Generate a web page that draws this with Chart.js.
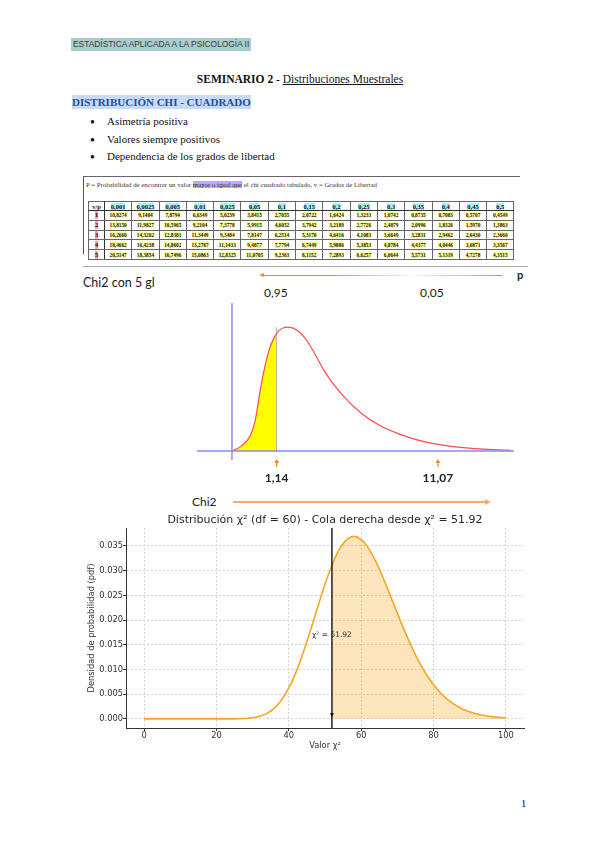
<!DOCTYPE html>
<html>
<head>
<meta charset="utf-8">
<script src="https://cdn.jsdelivr.net/npm/chart.js@4.4.0/dist/chart.umd.min.js"></script>
<style>
  body { margin: 0; background: #fff; }
  #page { position: relative; width: 600px; height: 848px; overflow: hidden; font-family: "Liberation Serif", serif; color: #111; }
  .abs { position: absolute; white-space: nowrap; }
  .cal { font-family: Lato, "Liberation Sans", sans-serif; color: #222; }
  #tbl { position: absolute; left: 88px; top: 201px; border-collapse: collapse; table-layout: fixed; border: 1.5px solid #333; font-family: "Liberation Serif", serif; font-weight: bold; }
  #tbl td { border: 0.8px solid #666; padding: 0; text-align: center; overflow: hidden; }
  #tbl tr.hd td { height: 8px; font-size: 6.5px; line-height: 7px; border-bottom: 1.6px solid #333; }
  #tbl tr.rw td { height: 8.8px; font-size: 5.3px; line-height: 6px; }
  #tbl td.c0 { border-right: 1.6px solid #333; }
  .hc { background: #a8f0f7; }
  .hr { background: #f4a3a8; font-size: 7px; }
  .hy { background: #ffff9c; }
</style>
</head>
<body>
<div id="page">
  <div class="abs" style="left:71px;top:38px;height:13px;line-height:13px;padding:0 2px;background:#a9cccc;font-family:'Liberation Sans Narrow','Liberation Sans',sans-serif;font-size:8.4px;color:#3a3a3a;">ESTADÍSTICA APLICADA A LA PSICOLOGÍA II</div>

  <div class="abs" style="left:0;top:72px;width:600px;text-align:center;font-size:11.5px;line-height:14px;"><b>SEMINARIO 2</b> - <u>Distribuciones Muestrales</u></div>

  <div class="abs" style="left:72px;top:95px;line-height:14px;font-size:11px;font-weight:bold;color:#1f4f99;background:#c9daf8;">DISTRIBUCIÓN CHI - CUADRADO</div>

  <div class="abs" style="left:90px;top:115px;font-size:8px;line-height:14px;">●</div>
  <div class="abs" style="left:107px;top:114px;font-size:11px;line-height:14px;">Asimetría positiva</div>
  <div class="abs" style="left:90px;top:133px;font-size:8px;line-height:14px;">●</div>
  <div class="abs" style="left:107px;top:132px;font-size:11px;line-height:14px;">Valores siempre positivos</div>
  <div class="abs" style="left:90px;top:150px;font-size:8px;line-height:14px;">●</div>
  <div class="abs" style="left:107px;top:149px;font-size:11px;line-height:14px;">Dependencia de los grados de libertad</div>

  <!-- tabla chi cuadrado -->
  <div class="abs" style="left:83px;top:176px;width:437px;border-top:1px solid #666;"></div>
  <div class="abs" style="left:83px;top:176px;height:78px;border-left:1px solid #555;"></div>
  <div class="abs" style="left:86px;top:180px;font-size:6.8px;line-height:9px;color:#333;">P = Probabilidad de encontrar un valor <span style="background:#b9a9f5;">mayor o igual que</span> el chi cuadrado tabulado, v = Grados de Libertad</div>
  <table id="tbl"></table>
  <div class="abs" style="left:83px;top:266px;width:445px;border-top:1px solid #aaa;"></div>

  <!-- chi2 con 5 gl -->
  <div class="abs cal" style="left:83px;top:275px;font-size:12.5px;line-height:16px;">Chi2 con 5 gl</div>
  <div class="abs" style="left:263px;top:274.5px;width:239px;height:1.4px;background:linear-gradient(to right,#f08a24 0%,#f08a24 30%,rgba(240,138,36,0.08) 62%,#f08a24 100%);"></div>
  <div class="abs" style="left:259px;top:272.5px;width:0;height:0;border-top:2.7px solid transparent;border-bottom:2.7px solid transparent;border-right:5px solid #f08a24;"></div>
  <div class="abs cal" style="left:517px;top:268px;font-size:11px;line-height:14px;font-weight:bold;">p</div>
  <div class="abs cal" style="left:264px;top:285px;font-size:12px;line-height:16px;">0,95</div>
  <div class="abs cal" style="left:420px;top:285px;font-size:12px;line-height:16px;">0,05</div>
  <div class="abs" style="left:150px;top:296px;width:390px;height:196px;"><canvas id="chi5"></canvas></div>
  <div class="abs cal" style="left:192px;top:494px;font-size:12px;line-height:16px;">Chi2</div>
  <div class="abs" style="left:233px;top:501px;width:253px;height:2px;background:#f3ad66;"></div>
  <div class="abs" style="left:485px;top:499px;width:0;height:0;border-top:3px solid transparent;border-bottom:3px solid transparent;border-left:6px solid #f3ad66;"></div>

  <!-- chi2 con 60 gl -->
  <div class="abs" style="left:60px;top:505px;width:480px;height:260px;"><canvas id="chi60"></canvas></div>

  <div class="abs" style="left:521px;top:797px;font-size:10.5px;line-height:14px;">1</div>
</div>

<script>
  // tabla de valores criticos
  const pHeaders = ["0,001", "0,0025", "0,005", "0,01", "0,025", "0,05", "0,1", "0,15", "0,2", "0,25", "0,3", "0,35", "0,4", "0,45", "0,5"];
  const tableRows = [
    ["10,8274", "9,1404", "7,8794", "6,6349", "5,0239", "3,8415", "2,7055", "2,0722", "1,6424", "1,3233", "1,0742", "0,8735", "0,7083", "0,5707", "0,4549"],
    ["13,8150", "11,9827", "10,5965", "9,2104", "7,3778", "5,9915", "4,6052", "3,7942", "3,2189", "2,7726", "2,4079", "2,0996", "1,8326", "1,5970", "1,3863"],
    ["16,2660", "14,3202", "12,8381", "11,3449", "9,3484", "7,8147", "6,2514", "5,3170", "4,6416", "4,1083", "3,6649", "3,2831", "2,9462", "2,6430", "2,3660"],
    ["18,4662", "16,4238", "14,8602", "13,2767", "11,1433", "9,4877", "7,7794", "6,7449", "5,9886", "5,3853", "4,8784", "4,4377", "4,0446", "3,6871", "3,3567"],
    ["20,5147", "18,3854", "16,7496", "15,0863", "12,8325", "11,0705", "9,2363", "8,1152", "7,2893", "6,6257", "6,0644", "5,5731", "5,1319", "4,7278", "4,3515"]
  ];

  // chi2 con 5 gl (curva)
  const chi5X = [0, 0.5, 1, 1.25, 1.5, 1.75, 2, 2.25, 2.5, 2.75, 3, 3.5, 4, 4.5, 5, 6, 7, 8, 9, 10, 11, 12, 13, 14, 15];
  const chi5Y = [0, 0.006, 0.02, 0.038, 0.073, 0.103, 0.126, 0.14, 0.149, 0.153, 0.154, 0.15, 0.138, 0.119, 0.098, 0.068, 0.046, 0.031, 0.021, 0.0135, 0.0085, 0.005, 0.003, 0.0016, 0.0008];
  const shadeEnd = 2.4;
  const shadeEndY = 0.146;
  const markX = [2.4, 11.07];
  const markLabels = ["1,14", "11,07"];

  // chi2 con 60 gl
  const chi60X = [0, 10, 20, 25, 28, 30, 32, 34, 36, 38, 40, 42, 44, 46, 48, 50, 52, 54, 56, 58, 60, 62, 64, 66, 68, 70, 72, 74, 76, 78, 80, 84, 88, 92, 96, 100];
  const chi60Y = [0, 0, 0.0000003, 0.000014, 0.00008, 0.00022, 0.00053, 0.00113, 0.00218, 0.00384, 0.00626, 0.00947, 0.01344, 0.01794, 0.02267, 0.02725, 0.03126, 0.03435, 0.03628, 0.03694, 0.03631, 0.03457, 0.03194, 0.02868, 0.02508, 0.02139, 0.01781, 0.0145, 0.01156, 0.00903, 0.00693, 0.00386, 0.00201, 0.00099, 0.00046, 0.0002];
  const critValue = 51.92;
  const critY = 0.03111;
  const xTicks = [0, 20, 40, 60, 80, 100];
  const yTicks = [0, 0.005, 0.01, 0.015, 0.02, 0.025, 0.03, 0.035];

  // tabla
  let html = '<colgroup><col style="width:16px">' + pHeaders.map(() => '<col style="width:27.3px">').join("") + "</colgroup>";
  html += '<tr class="hd"><td class="c0">v/p</td>' + pHeaders.map(p => '<td><span class="hc">' + p + "</span></td>").join("") + "</tr>";
  tableRows.forEach((row, i) => {
    html += '<tr class="rw"><td class="c0"><span class="hr">' + (i + 1) + "</span></td>" +
      row.map(v => '<td><span class="hy">' + v + "</span></td>").join("") + "</tr>";
  });
  document.getElementById("tbl").innerHTML = html;

  const pts = (xs, ys) => xs.map((x, i) => ({ x: x, y: ys[i] }));

  // grafico 1
  const shadeData = pts(chi5X, chi5Y).filter(p => p.x < shadeEnd);
  shadeData.push({ x: shadeEnd, y: shadeEndY });

  const marksPlugin = {
    id: "marks",
    afterDraw(chart) {
      const { ctx, scales: { x }, chartArea } = chart;
      ctx.save();
      markX.forEach((v, i) => {
        const px = x.getPixelForValue(v);
        ctx.strokeStyle = "#f08a24";
        ctx.fillStyle = "#f08a24";
        ctx.lineWidth = 1.2;
        ctx.beginPath();
        ctx.moveTo(px, chartArea.bottom + 1);
        ctx.lineTo(px, chartArea.bottom + 7);
        ctx.stroke();
        ctx.beginPath();
        ctx.moveTo(px, chartArea.bottom - 1);
        ctx.lineTo(px - 2.5, chartArea.bottom + 3);
        ctx.lineTo(px + 2.5, chartArea.bottom + 3);
        ctx.fill();
        ctx.fillStyle = "#222";
        ctx.font = "bold 12px Lato";
        ctx.textAlign = "center";
        ctx.textBaseline = "middle";
        ctx.fillText(markLabels[i], px, chartArea.bottom + 18);
      });
      ctx.restore();
    }
  };

  new Chart(document.getElementById("chi5"), {
    type: "line",
    data: {
      datasets: [
        { data: [{ x: -1.88, y: 0 }, { x: 15.16, y: 0 }], borderColor: "#8a8af5", borderWidth: 1.5, pointRadius: 0 },
        { data: [{ x: 0, y: -0.0112 }, { x: 0, y: 0.184 }], borderColor: "#8a8af5", borderWidth: 1.5, pointRadius: 0 },
        { data: pts(chi5X, chi5Y), borderColor: "#ff4a4a", borderWidth: 1.2, pointRadius: 0, cubicInterpolationMode: "monotone" },
        { data: [{ x: shadeEnd, y: 0 }, { x: shadeEnd, y: 0.154 }], borderColor: "#b5b5a0", borderWidth: 1, pointRadius: 0 },
        { data: shadeData, borderWidth: 0, borderColor: "transparent", backgroundColor: "#ffff00", fill: "origin", pointRadius: 0, cubicInterpolationMode: "monotone" }
      ]
    },
    options: {
      responsive: true,
      maintainAspectRatio: false,
      animation: false,
      layout: { padding: { left: 47, right: 26, top: 7, bottom: 32 } },
      plugins: { legend: { display: false }, tooltip: { enabled: false } },
      scales: {
        x: { type: "linear", display: false, min: -1.88, max: 15.16 },
        y: { display: false, min: -0.0112, max: 0.184 }
      }
    },
    plugins: [marksPlugin]
  });

  // grafico 2
  const tailData = [{ x: critValue, y: critY }].concat(pts(chi60X, chi60Y).filter(p => p.x > critValue));

  const annotPlugin = {
    id: "annot",
    afterDraw(chart) {
      const { ctx, scales: { x, y }, chartArea } = chart;
      ctx.save();
      ctx.fillStyle = "#262626";
      ctx.font = "11px 'DejaVu Sans'";
      ctx.textAlign = "center";
      ctx.textBaseline = "middle";
      ctx.fillText("Distribución χ² (df = 60) - Cola derecha desde χ² = 51.92", (chartArea.left + chartArea.right) / 2, 15);
      const px = x.getPixelForValue(critValue);
      ctx.fillStyle = "#333";
      ctx.font = "7.5px 'DejaVu Sans'";
      ctx.fillText("χ² = 51.92", px, y.getPixelForValue(0.017));
      const py = y.getPixelForValue(0.0006);
      ctx.fillStyle = "#111";
      ctx.beginPath();
      ctx.moveTo(px, py + 1);
      ctx.lineTo(px - 2, py - 3);
      ctx.lineTo(px + 2, py - 3);
      ctx.fill();
      ctx.restore();
    }
  };

  const tickFont = { family: "DejaVu Sans", size: 8.3 };
  new Chart(document.getElementById("chi60"), {
    type: "line",
    data: {
      datasets: [
        { data: [{ x: critValue, y: -0.00184 }, { x: critValue, y: 0.03864 }], borderColor: "#111", borderWidth: 1.4, pointRadius: 0 },
        { data: pts(chi60X, chi60Y), borderColor: "#f5a623", borderWidth: 1.6, pointRadius: 0, cubicInterpolationMode: "monotone" },
        { data: tailData, borderWidth: 0, borderColor: "transparent", backgroundColor: "rgba(245,170,35,0.3)", fill: "origin", pointRadius: 0, cubicInterpolationMode: "monotone" }
      ]
    },
    options: {
      responsive: true,
      maintainAspectRatio: false,
      animation: false,
      layout: { padding: { left: 0, right: 16, top: 23, bottom: 0 } },
      plugins: { legend: { display: false }, tooltip: { enabled: false } },
      scales: {
        x: {
          type: "linear", min: -5, max: 105,
          afterBuildTicks: s => { s.ticks = xTicks.map(v => ({ value: v })); },
          afterFit: s => { s.height = 37; },
          ticks: { font: tickFont, color: "#333", padding: 0, maxRotation: 0 },
          grid: { color: "#d4d4d4", tickColor: "#333", tickLength: 3 },
          border: { color: "#333", width: 1, dash: [2, 2] },
          title: { display: true, text: "Valor χ²", font: tickFont, color: "#333", padding: { top: 0, bottom: 14 } }
        },
        y: {
          min: -0.00184, max: 0.03864,
          afterBuildTicks: s => { s.ticks = yTicks.map(v => ({ value: v })); },
          afterFit: s => { s.width = 66; },
          ticks: { font: tickFont, color: "#333", padding: 0, callback: v => v.toFixed(3) },
          grid: { color: "#d4d4d4", tickColor: "#333", tickLength: 3 },
          border: { color: "#333", width: 1, dash: [2, 2] },
          title: { display: true, text: "Densidad de probabilidad (pdf)", font: tickFont, color: "#333", padding: { top: 26.6, bottom: 0 } }
        }
      }
    },
    plugins: [annotPlugin]
  });
</script>
</body>
</html>
